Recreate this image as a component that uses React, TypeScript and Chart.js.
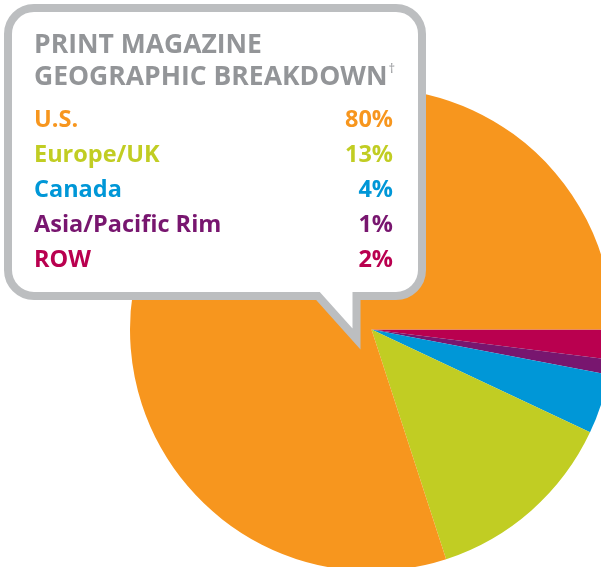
import React, { useEffect, useRef } from "react";
import { Chart, registerables } from "chart.js";

Chart.register(...registerables);

const categories = ["U.S.", "Europe/UK", "Canada", "Asia/Pacific Rim", "ROW"];
const shares = [80, 13, 4, 1, 2];
const sliceColors = ["#F7961E", "#C1CD23", "#0097D7", "#78166F", "#B9004F"];
const titleLines = ["PRINT MAGAZINE", "GEOGRAPHIC BREAKDOWN"];
const titleMark = "\u2020";

const W = 613;
const H = 571;

const FONT = "'Open Sans', 'Noto Sans', sans-serif";

const calloutPlugin = {
  id: "callout",
  afterDraw(chart: any) {
    const ctx: CanvasRenderingContext2D = chart.ctx;
    ctx.save();
    const l = 8, t = 8, r = 422, b = 296, rad = 26;
    ctx.beginPath();
    ctx.moveTo(l + rad, t);
    ctx.lineTo(r - rad, t);
    ctx.arcTo(r, t, r, t + rad, rad);
    ctx.lineTo(r, b - rad);
    ctx.arcTo(r, b, r - rad, b, rad);
    ctx.lineTo(356.5, b);
    ctx.lineTo(356.5, 339);
    ctx.lineTo(318, b);
    ctx.lineTo(l + rad, b);
    ctx.arcTo(l, b, l, b - rad, rad);
    ctx.lineTo(l, t + rad);
    ctx.arcTo(l, t, l + rad, t, rad);
    ctx.closePath();
    ctx.fillStyle = "#ffffff";
    ctx.fill();
    ctx.lineWidth = 8;
    ctx.strokeStyle = "#BCBEC0";
    ctx.lineJoin = "miter";
    ctx.stroke();

    // title
    ctx.fillStyle = "#939598";
    ctx.textBaseline = "alphabetic";
    ctx.textAlign = "left";
    ctx.font = `700 26.5px ${FONT}`;
    ctx.fillText(titleLines[0], 34, 53);
    ctx.fillText(titleLines[1], 34, 85);
    const w2 = ctx.measureText(titleLines[1]).width;
    ctx.font = `400 13px ${FONT}`;
    ctx.fillText(titleMark, 34 + w2 + 1, 73);

    // legend rows
    ctx.font = `700 23.5px ${FONT}`;
    categories.forEach((c, i) => {
      const y = 127 + i * 35;
      ctx.fillStyle = sliceColors[i];
      ctx.textAlign = "left";
      ctx.fillText(c, 34, y);
      ctx.textAlign = "right";
      ctx.fillText(`${shares[i]}%`, 393, y);
    });
    ctx.restore();
  },
};

export default function App() {
  const ref = useRef<HTMLCanvasElement | null>(null);
  useEffect(() => {
    if (!ref.current) return;
    const order = [...categories.keys()].reverse();
    const chart = new Chart(ref.current, {
      type: "pie",
      data: {
        labels: order.map((i) => categories[i]),
        datasets: [
          {
            data: order.map((i) => shares[i]),
            backgroundColor: order.map((i) => sliceColors[i]),
            borderWidth: 0,
          },
        ],
      },
      options: {
        responsive: false,
        animation: false,
        rotation: 90,
        layout: { padding: { left: 130, top: 88, right: 0, bottom: 0 } },
        plugins: {
          legend: { display: false },
          tooltip: { enabled: false },
        },
      },
      plugins: [calloutPlugin],
    });
    return () => chart.destroy();
  }, []);
  return (
    <div
      style={{
        position: "fixed",
        left: 0,
        top: 0,
        width: 601,
        height: 567,
        overflow: "hidden",
        background: "#ffffff",
      }}
    >
      <canvas ref={ref} width={W} height={H} style={{ display: "block", width: W, height: H }} />
    </div>
  );
}
